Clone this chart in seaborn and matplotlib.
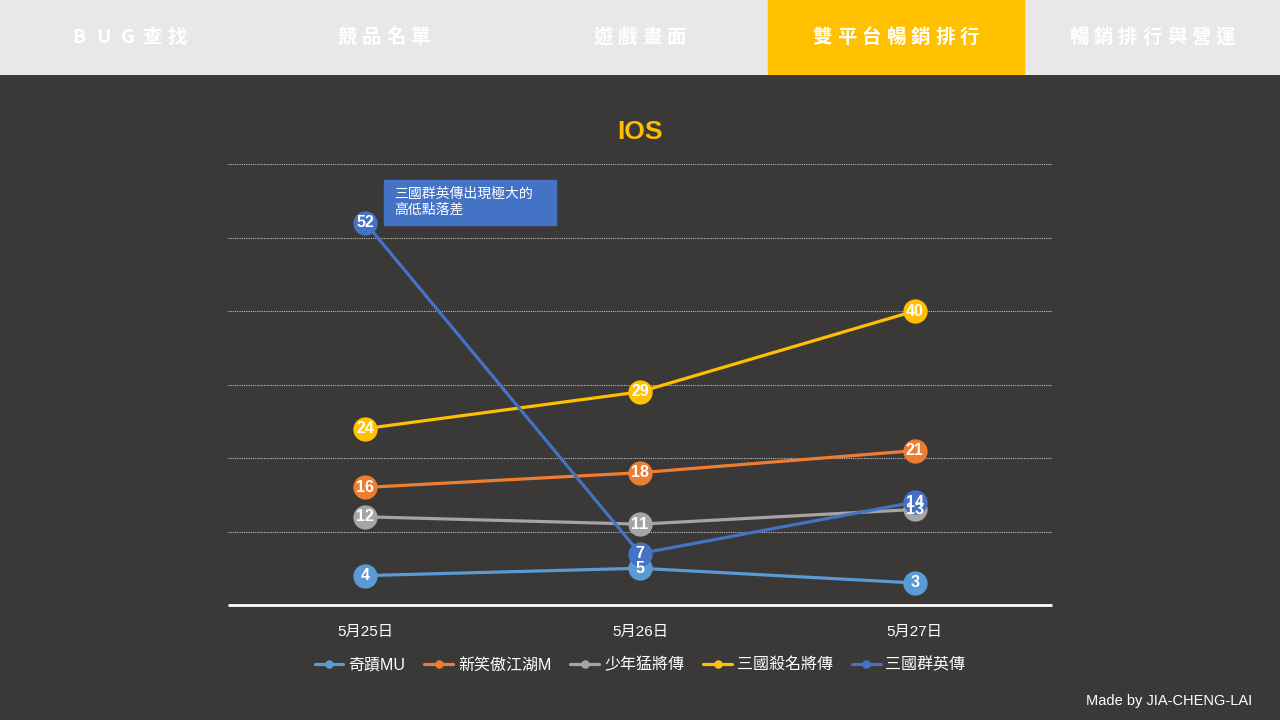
import matplotlib.pyplot as plt
import seaborn as sns
import pandas as pd
from matplotlib.patches import Rectangle

# data
dates = ["5月25日", "5月26日", "5月27日"]
series_names = ["奇蹟MU", "新笑傲江湖M", "少年猛將傳", "三國殺名將傳", "三國群英傳"]
qiji_mu = [4, 5, 3]
xiao_ao = [16, 18, 21]
shaonian = [12, 11, 13]
sanguo_sha = [24, 29, 40]
sanguo_qy = [52, 7, 14]
series_colors = ["#5B9BD5", "#ED7D31", "#A5A5A5", "#FFC000", "#4472C4"]
tabs = ["BUG查找", "競品名單", "遊戲畫面", "雙平台暢銷排行", "暢銷排行與營運"]
active_tab = 3

bg = "#3B3838"
sns.set_theme(style="dark")
plt.rcParams["font.family"] = ["Liberation Sans", "Noto Sans CJK TC", "DejaVu Sans"]

rows = []
for name, vals in zip(series_names, [qiji_mu, xiao_ao, shaonian, sanguo_sha, sanguo_qy]):
    for i, v in enumerate(vals):
        rows.append({"date": dates[i], "pos": i, "series": name, "rank": v})
df = pd.DataFrame(rows)

fig = plt.figure(figsize=(12.8, 7.2), dpi=100, facecolor=bg)

# top nav bar, letters spaced out one by one
nav = fig.add_axes([0, 1 - 75 / 720, 1, 75 / 720])
nav.set_xlim(0, 1280)
nav.set_ylim(0, 1)
nav.axis("off")
nav.add_patch(Rectangle((0, 0), 1280, 1, color="#E9E7EA"))
nav.add_patch(Rectangle((active_tab * 256, 0), 256, 1, color="#FFC000"))
step = 24.5
for i, t in enumerate(tabs):
    cx = i * 256 + 128
    start = cx - step * (len(t) - 1) / 2
    for j, ch in enumerate(t):
        nav.text(start + j * step, 0.5, ch, ha="center", va="center", color="white",
                 fontsize=14, fontweight="bold",
                 family=["Noto Sans CJK TC", "DejaVu Sans"])

ax = fig.add_axes([228 / 1280, 1 - 605 / 720, (1052 - 228) / 1280, (605 - 164) / 720])
ax.set_facecolor(bg)

sns.lineplot(data=df, x="pos", y="rank", hue="series", hue_order=series_names,
             palette=series_colors, linewidth=2.3, marker="o", markersize=17.5,
             markeredgewidth=0, ax=ax, legend=True)

for name, vals in zip(series_names, [qiji_mu, xiao_ao, shaonian, sanguo_sha, sanguo_qy]):
    for i, v in enumerate(vals):
        ax.text(i, v, str(v), ha="center", va="center", color="white",
                fontsize=11.5, fontweight="bold", zorder=5)

ax.set_xlim(-0.5, 2.5)
ax.set_ylim(0, 60)
ax.set_yticks(range(10, 61, 10))
ax.set_xticks(range(len(dates)))
ax.set_xticklabels(dates, color="white", fontsize=11)
ax.tick_params(axis="x", length=0, pad=14)
ax.set_yticklabels([])
ax.tick_params(axis="y", length=0)
ax.grid(axis="y", color="#BFBFBF", linestyle=(0, (1, 1)), linewidth=0.8)
ax.grid(axis="x", visible=False)
ax.set_xlabel("")
ax.set_ylabel("")
for s in ["top", "left", "right"]:
    ax.spines[s].set_visible(False)
ax.spines["bottom"].set_color("white")
ax.spines["bottom"].set_linewidth(2)
ax.spines["bottom"].set_capstyle("butt")

leg = ax.legend(loc="upper center", bbox_to_anchor=(0.5, -0.085), ncol=5,
                frameon=False, fontsize=11.5, handlelength=1.8, handletextpad=0.3,
                columnspacing=1.2, markerscale=0.35)
for t in leg.get_texts():
    t.set_color("white")

ax.text(0.5, 1.045, "IOS", transform=ax.transAxes, ha="center", va="bottom",
        color="#FFC000", fontsize=19, fontweight="bold")

# annotation box
fig.patches.append(Rectangle((384 / 1280, 1 - 225 / 720), 172 / 1280, 45 / 720,
                             transform=fig.transFigure, color="#4472C4", zorder=3))
fig.text(394 / 1280, 1 - 202 / 720, "三國群英傳出現極大的\n高低點落差", color="white",
         fontsize=10, va="center", ha="left", linespacing=1.15, zorder=4,
         family=["Noto Sans CJK TC", "DejaVu Sans"])

fig.text(1252 / 1280, 1 - 701 / 720, "Made by JIA-CHENG-LAI", color="white",
         fontsize=10.5, ha="right", va="center")

fig.savefig("out.png", dpi=100, facecolor=bg)
